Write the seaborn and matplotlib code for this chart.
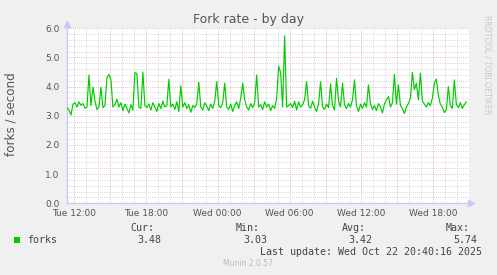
import numpy as np
import pandas as pd
import matplotlib
matplotlib.use("Agg")
import matplotlib.pyplot as plt
import matplotlib.dates as mdates
import matplotlib.ticker as mticker
from matplotlib.patches import Rectangle
import seaborn as sns

# ---- data (forks per second, 10-minute samples) ----
start_time = "2025-10-21 11:25"
step_minutes = 10
fork_rate = [
    3.28, 3.20, 3.03, 3.40, 3.45, 3.30, 3.48, 3.36, 3.42, 3.26,
    3.30, 4.40, 3.35, 3.98, 3.50, 3.22, 3.30, 3.98, 3.28, 3.35,
    4.32, 4.42, 4.23, 3.30, 3.38, 3.57, 3.30, 3.45, 3.18, 3.40,
    3.25, 3.10, 3.38, 3.20, 4.48, 4.45, 3.30, 3.25, 4.50, 3.35,
    3.28, 3.40, 3.20, 3.45, 3.30, 3.15, 3.42, 3.25, 3.50, 3.30,
    3.35, 4.25, 3.30, 3.40, 3.22, 3.48, 3.15, 4.03, 3.30, 3.45,
    3.25, 3.38, 3.12, 3.35, 3.28, 3.42, 4.15, 3.30, 3.20, 3.45,
    3.33, 3.18, 3.40, 3.25, 3.50, 4.17, 3.35, 3.28, 3.45, 4.12,
    3.30, 3.22, 3.40, 3.15, 3.35, 3.48, 3.25, 3.60, 4.12, 3.55,
    3.30, 3.20, 3.42, 3.28, 3.45, 4.40, 3.30, 3.38, 3.22, 3.48,
    3.30, 3.40, 3.18, 3.35, 3.25, 3.60, 4.70, 4.48, 3.30, 5.74,
    3.30, 3.35, 3.42, 3.28, 3.50, 3.20, 3.48, 3.30, 3.38, 3.55,
    4.17, 3.35, 3.25, 3.50, 3.30, 3.15, 3.40, 4.17, 3.30, 3.22,
    3.40, 3.28, 4.09, 3.35, 3.20, 4.29, 3.50, 3.30, 4.12, 3.38,
    3.25, 3.42, 3.30, 3.55, 4.23, 3.35, 3.15, 3.40, 3.25, 3.45,
    3.30, 4.06, 3.40, 3.22, 3.35, 3.18, 3.42, 3.30, 3.10, 3.40,
    3.55, 3.66, 3.30, 3.45, 4.42, 3.40, 4.06, 3.35, 3.25, 3.08,
    3.30, 3.42, 3.60, 4.49, 3.90, 4.12, 3.55, 4.46, 3.50, 3.40,
    3.30, 3.45, 3.35, 3.60, 4.12, 4.26, 3.70, 3.40, 3.30, 3.11,
    3.20, 4.00, 3.35, 3.25, 4.23, 3.40, 3.28, 3.45, 3.25, 3.38,
    3.48,
]
series_name = "forks"
legend_heads = ["Cur:", "Min:", "Avg:", "Max:"]
legend_values = ["3.48", "3.03", "3.42", "5.74"]
title = "Fork rate - by day"
y_label = "forks / second"
last_update = "Last update: Wed Oct 22 20:40:16 2025"
footer = "Munin 2.0.57"
side_text = "RRDTOOL / TOBI OETIKER"
x_window_start = "2025-10-21 11:23:30"
x_window_minutes = 2015
y_max = 6.0

times = pd.date_range(start=start_time, periods=len(fork_rate), freq=f"{step_minutes}min")
df = pd.DataFrame({"time": times, "value": fork_rate})

# ---- figure ----
W, H = 497, 275
BG = "#F0F0F0"
TXT = "#555555"
sns.set_theme(style="white")
plt.rcParams["font.family"] = ["DejaVu Sans"]

fig = plt.figure(figsize=(W / 100, H / 100), dpi=100, facecolor=BG)
L, R, T, B = 66.7, 469, 28.3, 203.3
ax = fig.add_axes([L / W, 1 - B / H, (R - L) / W, (B - T) / H])
ax.set_facecolor("white")

sns.lineplot(data=df, x="time", y="value", ax=ax, color="#00CC00",
             linewidth=0.85, legend=False, zorder=3)

x0 = pd.Timestamp(x_window_start)
ax.set_xlim(x0, x0 + pd.Timedelta(minutes=x_window_minutes))
ax.set_ylim(0, y_max)

# grid
ax.xaxis.set_major_locator(mdates.HourLocator(byhour=range(0, 24, 3)))
ax.xaxis.set_minor_locator(mdates.HourLocator())
def xfmt(v, pos):
    d = mdates.num2date(v)
    return d.strftime("%a %H:%M") if d.hour % 6 == 0 else ""
ax.xaxis.set_major_formatter(mticker.FuncFormatter(xfmt))
ax.yaxis.set_major_locator(mticker.MultipleLocator(1.0))
ax.yaxis.set_minor_locator(mticker.MultipleLocator(0.2))
ax.yaxis.set_major_formatter(mticker.FormatStrFormatter("%.1f"))

dot = (0, (0.72, 1.2))
ax.grid(which="minor", color="#D0D0D0", linestyle=dot, linewidth=0.72, zorder=1)
ax.grid(which="major", color="#E6AAAA", linestyle=dot, linewidth=0.72, zorder=2)
ax.set_axisbelow(True)

ax.tick_params(axis="both", which="both", length=0, labelsize=6.5, colors=TXT)
ax.tick_params(axis="x", pad=4)
ax.tick_params(axis="y", pad=5)
ax.set_xlabel("")
ax.set_ylabel("")

for s in ["top", "right"]:
    ax.spines[s].set_visible(False)
for s in ["left", "bottom"]:
    ax.spines[s].set_color("#C8C8F8")
    ax.spines[s].set_linewidth(0.9)

# axis arrows
ax.plot([0], [1.0 + 4.5 / (B - T)], marker="^", color="#C8C8F8", markersize=4.5,
        transform=ax.transAxes, clip_on=False)
ax.plot([1.0 + 2.5 / (R - L)], [0], marker=">", color="#C8C8F8", markersize=4.5,
        transform=ax.transAxes, clip_on=False)

def fx(x):
    return x / W
def fy(y):
    return 1 - y / H

fig.text(fx(249), fy(20), title, ha="center", va="center", fontsize=9, color=TXT)
fig.text(fx(11), fy(114), y_label, ha="center", va="center", rotation=90,
         fontsize=8.6, color=TXT)
fig.text(fx(487), fy(65), side_text, ha="center", va="center", rotation=270,
         fontsize=5.6, color="#C8C8C8")

mono = "DejaVu Sans Mono"
LEG = "#444444"
fig.patches.append(Rectangle((fx(14), fy(243)), 6 / W, 6 / H, transform=fig.transFigure,
                             facecolor="#00CC00", edgecolor="none"))
fig.text(fx(27), fy(240), series_name, ha="left", va="center", family=mono,
         fontsize=7.2, color=LEG)
head_right = [154, 260, 366, 470]
val_right = [161, 267, 372, 477]
for h, v, hr, vr in zip(legend_heads, legend_values, head_right, val_right):
    fig.text(fx(hr), fy(228), h, ha="right", va="center", family=mono, fontsize=7.2, color=LEG)
    fig.text(fx(vr), fy(240), v, ha="right", va="center", family=mono, fontsize=7.2, color=LEG)
fig.text(fx(482.5), fy(252), last_update, ha="right", va="center", family=mono,
         fontsize=7.2, color=LEG)
fig.text(fx(248), fy(264), footer, ha="center", va="center", fontsize=5.5, color="#BBBBBB")

fig.savefig("out.png", dpi=100, facecolor=BG)
